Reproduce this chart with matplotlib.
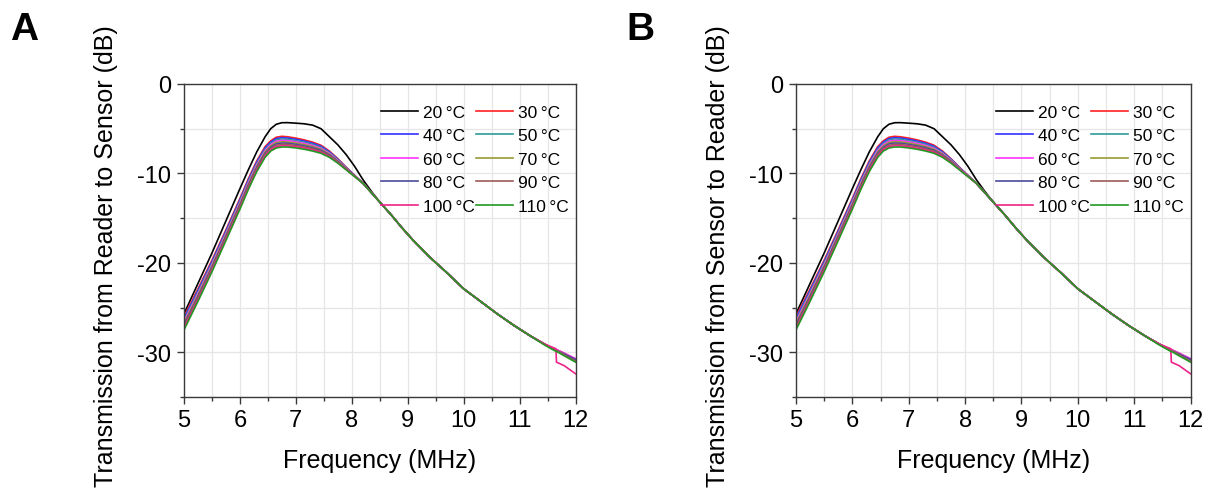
import matplotlib
matplotlib.use("Agg")
import matplotlib.pyplot as plt
from matplotlib.ticker import MultipleLocator

plt.rcParams['font.family'] = ['Liberation Sans', 'DejaVu Sans']
plt.rcParams['axes.unicode_minus'] = False

# ---------------- data ----------------
freq_head = [5.0, 5.25, 5.5, 5.75, 6.0, 6.15, 6.3, 6.45, 6.55, 6.65, 6.75, 6.85, 7.0, 7.15,
             7.3, 7.45, 7.6, 7.75, 7.9, 8.05]
freq_tail = [8.2, 8.35, 8.5, 8.7, 8.9, 9.1, 9.4, 9.7, 10.0, 10.3, 10.6, 10.9, 11.2, 11.45,
             11.65, 11.66, 11.8, 12.0]

temps = ['20', '30', '40', '50', '60', '70', '80', '90', '100', '110']

# low-frequency part (5.0 ... 8.05 MHz)
head_20 = [-25.7, -22.3, -18.9, -15.3, -11.7, -9.6, -7.6, -5.9, -5.0, -4.5, -4.33, -4.32, -4.38, -4.45,
           -4.6, -5.0, -5.9, -6.8, -7.9, -9.2]
head_30 = [-26.0, -22.9, -19.7, -16.3, -12.8, -10.6, -8.6, -7.0, -6.35, -5.95, -5.85, -5.9, -6.05, -6.25,
           -6.5, -6.85, -7.5, -8.35, -9.3, -10.2]
head_40 = [-26.19, -23.08, -19.86, -16.45, -12.95, -10.75, -8.75, -7.15, -6.49, -6.1, -6.0, -6.04, -6.19, -6.38,
           -6.63, -6.96, -7.59, -8.41, -9.34, -10.22]
head_50 = [-26.38, -23.25, -20.03, -16.6, -13.1, -10.9, -8.9, -7.3, -6.64, -6.25, -6.15, -6.19, -6.33, -6.51,
           -6.75, -7.08, -7.68, -8.48, -9.38, -10.24]
head_60 = [-26.56, -23.43, -20.19, -16.75, -13.25, -11.05, -9.05, -7.45, -6.78, -6.4, -6.3, -6.33, -6.46, -6.64,
           -6.88, -7.19, -7.76, -8.54, -9.41, -10.26]
head_70 = [-26.75, -23.6, -20.35, -16.9, -13.4, -11.2, -9.2, -7.6, -6.93, -6.55, -6.45, -6.48, -6.6, -6.78,
           -7.0, -7.3, -7.85, -8.6, -9.45, -10.28]
head_80 = [-26.94, -23.78, -20.51, -17.05, -13.55, -11.35, -9.35, -7.75, -7.07, -6.7, -6.6, -6.62, -6.74, -6.91,
           -7.13, -7.41, -7.94, -8.66, -9.49, -10.29]
head_90 = [-27.13, -23.95, -20.68, -17.2, -13.7, -11.5, -9.5, -7.9, -7.21, -6.85, -6.75, -6.76, -6.88, -7.04,
           -7.25, -7.53, -8.03, -8.73, -9.53, -10.31]
head_100 = [-27.31, -24.13, -20.84, -17.35, -13.85, -11.65, -9.65, -8.05, -7.36, -7.0, -6.9, -6.91, -7.01, -7.17,
            -7.38, -7.64, -8.11, -8.79, -9.56, -10.33]
head_110 = [-27.5, -24.3, -21.0, -17.5, -14.0, -11.8, -9.8, -8.2, -7.5, -7.15, -7.05, -7.05, -7.15, -7.3,
            -7.5, -7.75, -8.2, -8.85, -9.6, -10.35]

# high-frequency part (8.2 ... 12.0 MHz)
tail_20 = [-10.7, -12.0, -13.2, -14.6, -16.1, -17.5, -19.4, -21.1, -22.9, -24.3, -25.7, -27.0, -28.2, -29.1,
           -29.8, -29.8, -30.2, -30.9]
tail_30 = [-11.1, -12.15, -13.2, -14.6, -16.1, -17.5, -19.4, -21.1, -22.9, -24.3, -25.7, -27.0, -28.2, -29.1,
           -29.7, -29.7, -30.1, -30.8]
tail_40 = [-11.1, -12.15, -13.2, -14.6, -16.1, -17.5, -19.4, -21.1, -22.9, -24.3, -25.7, -27.0, -28.2, -29.1,
           -29.8, -29.8, -30.2, -30.9]
tail_50 = [-11.1, -12.15, -13.2, -14.6, -16.1, -17.5, -19.4, -21.1, -22.9, -24.3, -25.7, -27.0, -28.2, -29.1,
           -29.8, -29.8, -30.3, -31.0]
tail_60 = [-11.1, -12.15, -13.2, -14.6, -16.1, -17.5, -19.4, -21.1, -22.9, -24.3, -25.7, -27.0, -28.2, -29.1,
           -29.7, -29.7, -30.1, -30.7]
tail_70 = [-11.1, -12.15, -13.2, -14.6, -16.1, -17.5, -19.4, -21.1, -22.9, -24.3, -25.7, -27.0, -28.2, -29.1,
           -29.8, -29.8, -30.2, -30.9]
tail_80 = [-11.1, -12.15, -13.2, -14.6, -16.1, -17.5, -19.4, -21.1, -22.9, -24.3, -25.7, -27.0, -28.2, -29.1,
           -29.8, -29.8, -30.2, -30.8]
tail_90 = [-11.1, -12.15, -13.2, -14.6, -16.1, -17.5, -19.4, -21.1, -22.9, -24.3, -25.7, -27.0, -28.2, -29.1,
           -29.8, -29.8, -30.3, -31.0]
tail_100 = [-11.1, -12.15, -13.2, -14.6, -16.1, -17.5, -19.4, -21.1, -22.9, -24.3, -25.7, -27.0, -28.2, -29.1,
            -29.6, -31.1, -31.5, -32.4]
tail_110 = [-11.1, -12.15, -13.2, -14.6, -16.1, -17.5, -19.4, -21.1, -22.9, -24.3, -25.7, -27.0, -28.2, -29.2,
            -29.9, -29.9, -30.4, -31.1]

heads = [head_20, head_30, head_40, head_50, head_60, head_70, head_80, head_90, head_100, head_110]
tails = [tail_20, tail_30, tail_40, tail_50, tail_60, tail_70, tail_80, tail_90, tail_100, tail_110]

colors = ['#000000', '#ff2020', '#3030ff', '#2f9a9a', '#ff33ff', '#999933', '#4a4a9a', '#a05a5a', '#ee2288', '#239923']

panels = ['A', 'B']
ylabels = ['Transmission from Reader to Sensor (dB)', 'Transmission from Sensor to Reader (dB)']
xlabel = 'Frequency (MHz)'

W, H = 1211, 489
fig = plt.figure(figsize=(W / 100, H / 100), dpi=100)

axes_px = [(184, 85, 575.5, 398), (796, 85, 1190.5, 398)]
letter_px = [(10, 40), (626, 40)]
freq = freq_head + freq_tail
legend_order = [0, 2, 4, 6, 8, 1, 3, 5, 7, 9]

for k in range(2):
    l, t, r, b = axes_px[k]
    ax = fig.add_axes([l / W, 1 - b / H, (r - l) / W, (b - t) / H])
    lines = []
    for i in range(len(temps)):
        ys = heads[i] + tails[i]
        ln, = ax.plot(freq, ys, color=colors[i], lw=1.2,
                      label=temps[i] + '\u2009\u00b0C', solid_joinstyle='round')
        lines.append(ln)
    ax.set_xlim(5, 12)
    ax.set_ylim(-35, 0)
    ax.xaxis.set_major_locator(MultipleLocator(1))
    ax.xaxis.set_minor_locator(MultipleLocator(0.5))
    ax.yaxis.set_major_locator(MultipleLocator(10))
    ax.yaxis.set_minor_locator(MultipleLocator(5))
    ax.grid(True, which='both', color='#e6e6e6', lw=0.9, zorder=0)
    ax.set_axisbelow(True)
    for s in ax.spines.values():
        s.set_color('#3a3a3a')
        s.set_linewidth(1.0)
    ax.tick_params(axis='both', which='major', direction='out', length=5, width=1,
                   labelsize=17, color='#3a3a3a', pad=4)
    ax.tick_params(axis='both', which='minor', direction='out', length=3, width=1, color='#3a3a3a')
    ax.set_xlabel(xlabel, fontsize=18, labelpad=12)
    ax.set_ylabel(ylabels[k], fontsize=18)
    ax.yaxis.set_label_coords(-0.168, 0.454)
    hs = [lines[j] for j in legend_order]
    ls = [lines[j].get_label() for j in legend_order]
    ax.legend(hs, ls, ncol=2, loc='upper right', bbox_to_anchor=(0.983, 0.934), frameon=False,
              prop={'family': ['Liberation Sans', 'DejaVu Sans'], 'size': 12.5},
              handlelength=2.13, handletextpad=0.28, columnspacing=0.1,
              labelspacing=0.48, borderaxespad=0.0, borderpad=0.0)
    fig.text(letter_px[k][0] / W, 1 - letter_px[k][1] / H, panels[k], fontsize=28,
             fontweight='bold', ha='left', va='baseline')

fig.savefig('out.png', dpi=100, facecolor='white')
